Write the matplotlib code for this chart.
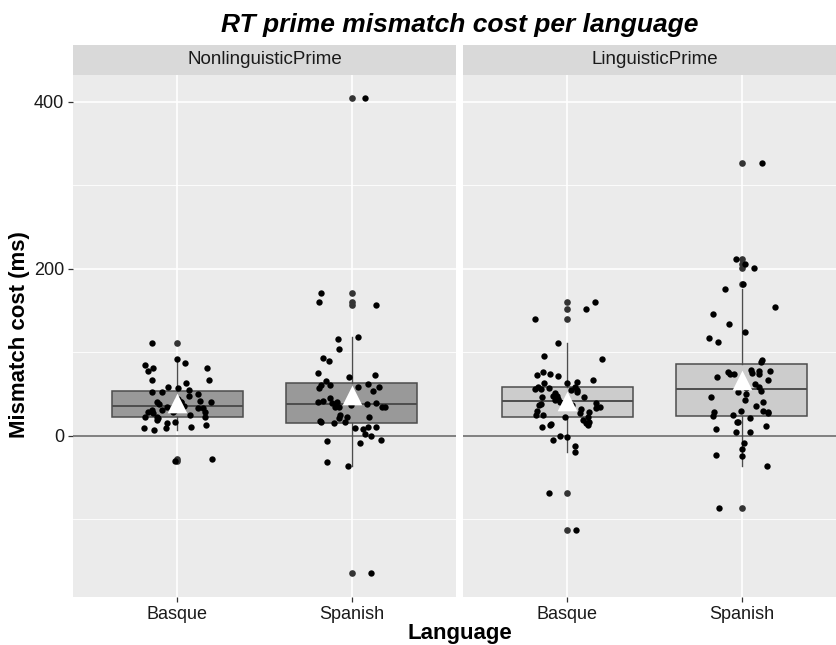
import numpy as np
import matplotlib.pyplot as plt

# values (ms)
languages = ['Basque', 'Spanish']
panels = ['NonlinguisticPrime', 'LinguisticPrime']

nonling_basque = [111, 92, 87, 85, 81, 81, 77, 67, 67, 63, 59, 57, 55, 53, 53, 50, 48, 44, 42, 41,
                  41, 41, 40, 37, 35, 36, 38, 33, 33, 31, 31, 31, 29, 29, 29, 27, 25, 23, 22, 21,
                  22, 19, 15, 16, 13, 11, 9, 9, 7, -28, -30]
nonling_spanish = [404, 171, 160, 157, 118, 116, 104, 93, 89, 75, 73, 71, 66, 62, 61, 61, 59, 59, 57, 54,
                   45, 42, 41, 40, 38, 37, 39, 39, 35, 35, 34, 34, 25, 23, 21, 22, 18, 16, 16, 15,
                   11, 10, 9, 8, 2, 0, -5, -6, -9, -31, -36, -164]
ling_basque = [160, 152, 140, 111, 96, 92, 76, 74, 72, 73, 67, 65, 63, 63, 58, 58, 57, 56, 56, 55,
               55, 51, 52, 48, 47, 43, 41, 39, 38, 37, 37, 35, 33, 32, 30, 29, 27, 25, 23, 25,
               22, 19, 17, 15, 14, 13, 13, 11, 0, -2, -5, -12, -19, -69, -113, 44, 46, 48]
ling_spanish = [327, 212, 206, 201, 182, 176, 154, 146, 134, 124, 117, 112, 91, 88, 79, 78, 77, 76, 75, 74,
                74, 74, 71, 67, 62, 59, 57, 54, 53, 50, 47, 43, 40, 36, 30, 30, 29, 29, 27, 25,
                24, 21, 17, 17, 12, 8, 5, 4, -9, -16, -23, -24, -36, -87]

panel_data = {'NonlinguisticPrime': [nonling_basque, nonling_spanish],
              'LinguisticPrime': [ling_basque, ling_spanish]}
box_fill = {'NonlinguisticPrime': '#999999', 'LinguisticPrime': '#cccccc'}

plt.rcParams['font.family'] = ['Liberation Sans', 'DejaVu Sans']

W, H = 836, 645
fig = plt.figure(figsize=(W / 100, H / 100), dpi=100)


def rect(x0, y0, x1, y1):
    return [x0 / W, 1 - y1 / H, (x1 - x0) / W, (y1 - y0) / H]


rng = np.random.default_rng(11)
edge = '#4d4d4d'
for i, panel in enumerate(panels):
    x0 = 73 if i == 0 else 463
    ax = fig.add_axes(rect(x0, 75, x0 + 383, 597))
    ax.set_facecolor('#ebebeb')
    for s in ax.spines.values():
        s.set_visible(False)
    groups = panel_data[panel]
    pos = np.arange(1, len(languages) + 1)

    ax.axhline(0, color='#7f7f7f', lw=1.4, zorder=1.5)
    ax.boxplot(groups, positions=pos, widths=0.75, patch_artist=True, showcaps=False, whis=1.5,
               boxprops=dict(facecolor=box_fill[panel], edgecolor=edge, linewidth=1.1),
               medianprops=dict(color=edge, linewidth=1.4),
               whiskerprops=dict(color=edge, linewidth=1.0),
               flierprops=dict(marker='o', markerfacecolor='#333333', markeredgecolor='none', markersize=4.8),
               zorder=2)
    for p, vals in zip(pos, groups):
        jit = rng.uniform(-0.2, 0.2, len(vals))
        ax.scatter(p + jit, vals, s=21, color='black', linewidths=0, zorder=3)
        ax.scatter([p], [np.mean(vals)], marker='^', s=200, color='white', linewidths=0, zorder=4)

    ax.set_xlim(0.4, 2.6)
    ax.set_ylim(-193, 432)
    ax.set_xticks(pos)
    ax.set_xticklabels(languages)
    ax.set_yticks([0, 200, 400])
    ax.set_yticks([-100, 100, 300], minor=True)
    ax.set_axisbelow(True)
    ax.grid(which='major', color='white', lw=1.2)
    ax.grid(which='minor', axis='y', color='white', lw=0.6)
    ax.tick_params(which='minor', length=0)
    ax.tick_params(which='major', length=3.5, width=0.9, color='#333333', labelsize=13,
                   labelcolor='#1a1a1a', pad=3)
    if i == 1:
        ax.tick_params(axis='y', left=False, labelleft=False)

    sax = fig.add_axes(rect(x0, 45, x0 + 383, 75))
    sax.set_facecolor('#d9d9d9')
    sax.set_xticks([])
    sax.set_yticks([])
    for s in sax.spines.values():
        s.set_visible(False)
    sax.text(0.5, 0.5, panel, ha='center', va='center', fontsize=13.5, color='#1a1a1a',
             transform=sax.transAxes)

fig.text(460 / W, 1 - 25 / H, 'RT prime mismatch cost per language', ha='center', va='center',
         fontsize=19, fontweight='bold', fontstyle='italic')
fig.text(460 / W, 1 - 634 / H, 'Language', ha='center', va='center', fontsize=16, fontweight='bold')
fig.text(20 / W, 1 - 335 / H, 'Mismatch cost (ms)', ha='center', va='center', rotation=90,
         fontsize=16, fontweight='bold')

fig.savefig('out.png', dpi=100)
